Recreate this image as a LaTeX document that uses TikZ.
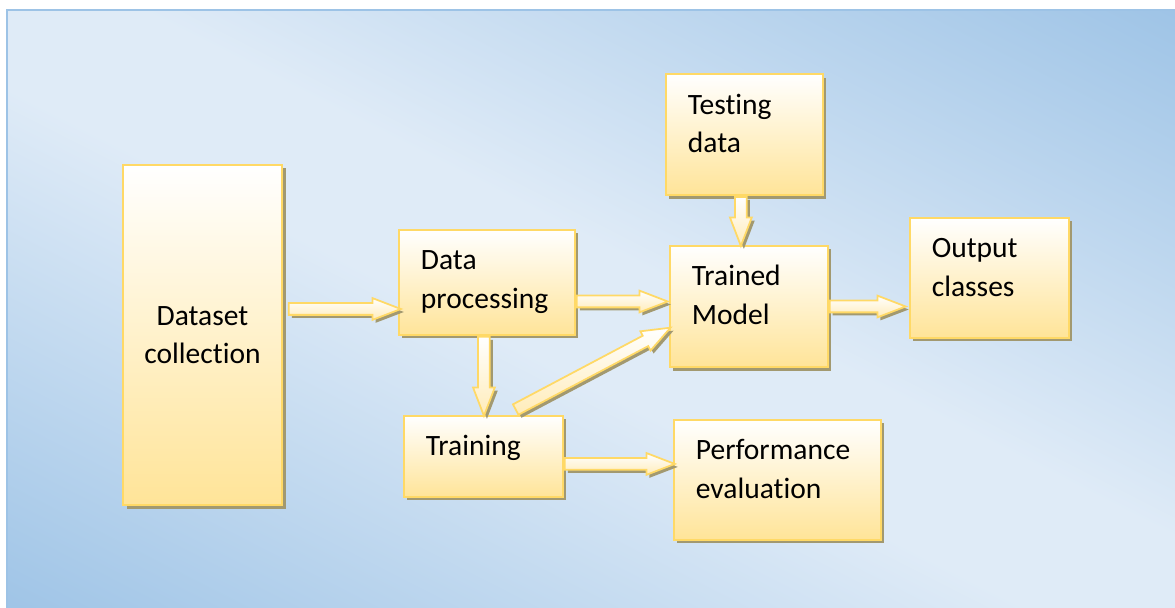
\documentclass[tikz,border=0pt]{standalone}
\usepackage{fontspec}
\setmainfont{Carlito}[Ligatures=NoCommon]
\usetikzlibrary{positioning, shapes.arrows, shadows, calc}

\definecolor{bgdark}{RGB}{157,195,230}
\definecolor{bglight}{RGB}{223,235,247}
\definecolor{boxline}{RGB}{255,217,102}
\definecolor{boxbot}{RGB}{255,228,152}
\definecolor{arrowbot}{RGB}{255,236,185}
\definecolor{shadowc}{RGB}{162,153,112}

% dark corners, light band across the middle
\pgfdeclareverticalshading{panelshade}{100bp}{%
  color(0bp)=(bgdark); color(16bp)=(bgdark); color(46bp)=(bglight);
  color(54bp)=(bglight); color(84bp)=(bgdark); color(100bp)=(bgdark)}

% block arrow from one anchor to another
\newcommand\flowarrow[3]{%
  \path let \p1=(#2), \p2=(#3),
    \n1={veclen(\x2-\x1,\y2-\y1)}, \n2={atan2(\y2-\y1,\x2-\x1)} in
    node[flow, anchor=tail, minimum height=\n1, rotate=\n2] (#1) at (\p1) {};%
}

\begin{document}
\begin{tikzpicture}[
    node distance=1cm,
    box/.style={
        draw=boxline,
        line width=1.1pt,
        top color=white,
        bottom color=boxbot,
        drop shadow={shadow xshift=0.07cm, shadow yshift=-0.07cm, fill=shadowc, opacity=1},
        font=\fontsize{16.8}{22}\selectfont
    },
    note/.style={
        box,
        align=left,
        inner xsep=0.44cm,
        inner ysep=0pt,
        text height=0.8cm
    },
    flow/.style={
        single arrow,
        draw=boxline,
        line width=1pt,
        top color=white,
        bottom color=arrowbot,
        inner xsep=0pt,
        inner ysep=0.1cm,
        single arrow head extend=0.1cm,
        single arrow tip angle=42,
        drop shadow={shadow xshift=0.06cm, shadow yshift=-0.06cm, fill=shadowc, opacity=1}
    }
]

% panel
\useasboundingbox (0,0) rectangle (23.5,-12.16);
\shade[shading=panelshade, shading angle=-27] (0.14,-0.2) rectangle (23.7,-12.4);
\draw[bgdark, line width=1.5pt] (0.14,-12.4) -- (0.14,-0.2) -- (23.7,-0.2);

\node[box, minimum width=3.18cm, minimum height=6.8cm, align=center] (dset) at (4.05,-6.7) {Dataset\\collection};
\node[note, text width=2.64cm, text depth=1.3cm, right=2.3cm of dset, yshift=1.05cm] (proc) {Data\\processing};
\node[note, text width=2.3cm, text depth=0.82cm, below=1.58cm of proc, xshift=-0.07cm] (train) {Training};
\node[note, text width=2.28cm, text depth=1.62cm, right=1.86cm of proc, yshift=-0.48cm] (model) {Trained\\Model};
\node[note, text width=2.26cm, text depth=1.62cm, above=0.98cm of model, xshift=-0.09cm] (test) {Testing\\data};
\node[note, text width=2.3cm, text depth=1.6cm, right=1.6cm of model, yshift=0.57cm] (out) {Output\\classes};
\node[note, text width=3.26cm, text depth=1.6cm, right=2.18cm of train, yshift=-0.47cm] (perf) {Performance\\evaluation};

\flowarrow{a1}{[xshift=0.1cm,yshift=0.52cm]dset.east}{[xshift=0.04cm,yshift=-0.53cm]proc.west}
\flowarrow{a2}{[yshift=-0.38cm]proc.east}{[xshift=-0.04cm,yshift=0.1cm]model.west}
\flowarrow{a3}{model.east}{[xshift=-0.08cm,yshift=-0.57cm]out.west}
\flowarrow{a4}{[xshift=-0.07cm]test.south}{[xshift=-0.16cm]model.north}
\flowarrow{a5}{[xshift=-0.06cm]proc.south}{[xshift=0.01cm]train.north}
\flowarrow{a6}{[xshift=0.63cm,yshift=0.1cm]train.north}{[xshift=0.02cm,yshift=-0.43cm]model.west}
\flowarrow{a7}{[yshift=-0.15cm]train.east}{[xshift=0.02cm,yshift=0.32cm]perf.west}

\end{tikzpicture}
\end{document}
